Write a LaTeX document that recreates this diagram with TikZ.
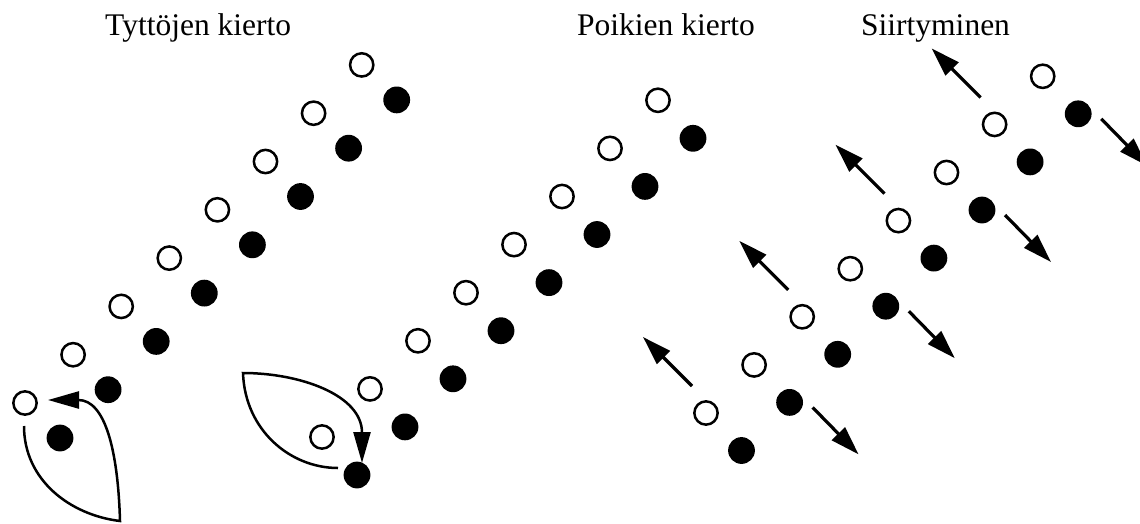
\documentclass[tikz,border=0pt]{standalone}
\usepackage{fontspec}
\setmainfont{Liberation Serif}
\usetikzlibrary{arrows.meta,calc}
\begin{document}
\begin{tikzpicture}[x=1pt,y=-1pt,
  opendot/.style={circle,draw=black,fill=white,line width=2.5pt,minimum size=23.3pt,inner sep=0pt},
  fulldot/.style={circle,fill=black,minimum size=26.8pt,inner sep=0pt},
  title/.style={anchor=base west,inner sep=0pt,font=\fontsize{31.5}{36}\selectfont},
  curve/.style={line width=2.5pt,-{Triangle[length=31pt,width=17pt]}},
  move/.style={line width=3.2pt,-{Triangle[length=29pt,width=18pt]}}]
\useasboundingbox (0,0) rectangle (1140,523);
% titles
\node[title] (t1) at (105,35) {Tyttöjen kierto};
\node[title] (t2) at (577,35) {Poikien kierto};
\node[title] (t3) at (861,35) {Siirtyminen};
% group 1
\foreach \i in {0,...,7} {
  \node[opendot] (g1o\i) at ({25+48.1*\i},{403-48.3*\i}) {};
  \node[fulldot] (g1f\i) at ({60+48.1*\i},{438-48.3*\i}) {};
}
% group 2
\foreach \i in {0,...,7} {
  \node[opendot] (g2o\i) at ({322+48*\i},{437-48.1*\i}) {};
  \node[fulldot] (g2f\i) at ({357+48*\i},{475-48.1*\i}) {};
}
% group 3
\foreach \i in {0,...,7} {
  \node[opendot] (g3o\i) at ({706+48.1*\i},{413-48.1*\i}) {};
  \node[fulldot] (g3f\i) at ({741.5+48.1*\i},{450.5-48.1*\i}) {};
}
% rotation curves
\coordinate (g1s) at ($(g1o0.center)+(-1,23)$);
\coordinate (g1c) at (120,521);
\coordinate (g1e) at ($(g1o0.center)+(23,-3)$);
\draw[curve] (g1s) .. controls (24,480) and (70,515) .. (g1c)
  .. controls (118,450) and (105,400) .. (g1e);
\coordinate (g2s) at ($(g2f0.center)+(-19,-7)$);
\coordinate (g2c) at (243,373);
\coordinate (g2e) at ($(g2f0.center)+(5,-12)$);
\draw[curve] (g2s) .. controls (290,468) and (245,430) .. (g2c)
  .. controls (300,373) and (362,395) .. (g2e);
% movement arrows
\foreach \i in {0,2,4,6} {
  \coordinate (ua\i) at ($(g3o\i.center)+(-14,-27)$);
  \coordinate (ub\i) at ($(ua\i)+(-49,-49)$);
  \draw[move] (ua\i) -- (ub\i);
}
\foreach \i in {1,3,5,7} {
  \coordinate (da\i) at ($(g3f\i.center)+(23,5)$);
  \coordinate (db\i) at ($(da\i)+(46,47)$);
  \draw[move] (da\i) -- (db\i);
}
\end{tikzpicture}
\end{document}
